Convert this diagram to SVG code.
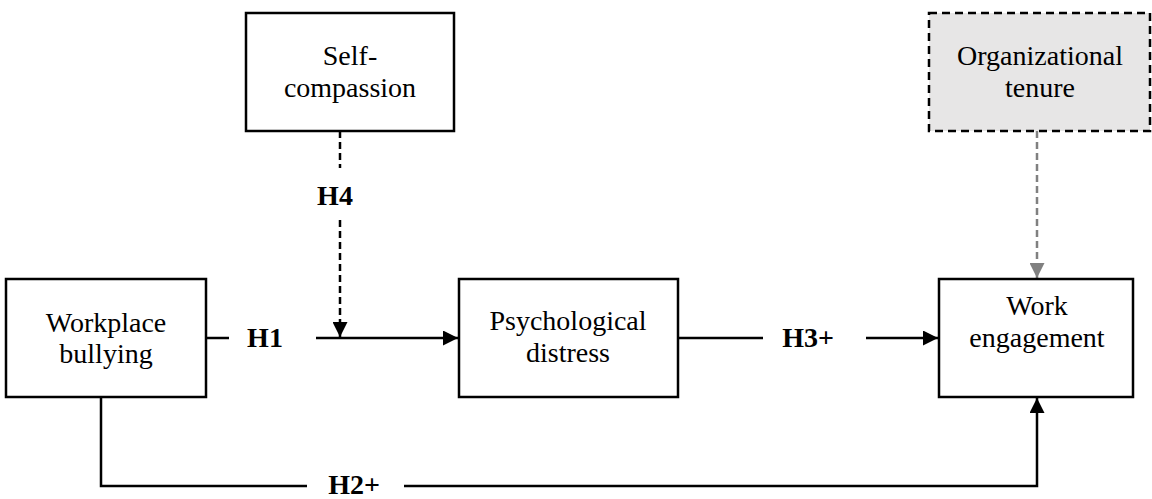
<svg xmlns="http://www.w3.org/2000/svg" width="1152" height="499" viewBox="0 0 1152 499">
<defs>
<marker id="ah" viewBox="0 0 15 15" refX="15" refY="7.5" markerWidth="15" markerHeight="15" markerUnits="userSpaceOnUse" orient="auto"><path d="M0,0 L15,7.5 L0,15 Z" fill="#000"/></marker>
<marker id="ahg" viewBox="0 0 15 15" refX="15" refY="7.5" markerWidth="15" markerHeight="15" markerUnits="userSpaceOnUse" orient="auto"><path d="M0,0 L15,7.5 L0,15 Z" fill="#808080"/></marker>
</defs>
<style>
.box{fill:#fff;stroke:#000;stroke-width:2.5}
.dbox{fill:#e7e6e6;stroke:#000;stroke-width:2.5;stroke-dasharray:8 5}
.t{font-family:"Liberation Serif",serif;font-size:28px;fill:#000;text-anchor:middle}
.h{font-family:"Liberation Serif",serif;font-size:28px;font-weight:bold;fill:#000;text-anchor:middle}
.ln{fill:none;stroke:#000;stroke-width:2.5}
.dl{fill:none;stroke:#000;stroke-width:2.5;stroke-dasharray:7 4}
.gl{fill:none;stroke:#808080;stroke-width:2.5;stroke-dasharray:7 4}
</style>
<rect width="1152" height="499" fill="#fff"/>
<g id="connectors">
<line class="ln" x1="206" y1="338" x2="229" y2="338"/>
<line class="ln" x1="316" y1="338" x2="458" y2="338" marker-end="url(#ah)"/>
<line class="dl" x1="340" y1="131" x2="340" y2="168"/>
<line class="dl" x1="340" y1="220" x2="340" y2="337" marker-end="url(#ah)"/>
<line class="ln" x1="678" y1="338" x2="763" y2="338"/>
<line class="ln" x1="866" y1="338" x2="938" y2="338" marker-end="url(#ah)"/>
<line class="gl" x1="1037" y1="131" x2="1037" y2="278" marker-end="url(#ahg)"/>
<polyline class="ln" points="101,397 101,486 307,486"/>
<polyline class="ln" points="404,486 1037,486 1037,398" marker-end="url(#ah)"/>
<text class="h" x="265" y="347">H1</text>
<text class="h" x="335" y="205">H4</text>
<text class="h" x="808" y="347">H3+</text>
<text class="h" x="354" y="494">H2+</text>
</g>
<g id="workplace-bullying">
<rect class="box" x="6" y="279" width="200" height="118"/>
<text class="t" x="106" y="332">Workplace</text>
<text class="t" x="106" y="363">bullying</text>
</g>
<g id="self-compassion">
<rect class="box" x="246" y="13" width="208" height="118"/>
<text class="t" x="350" y="65">Self-</text>
<text class="t" x="350" y="97">compassion</text>
</g>
<g id="psychological-distress">
<rect class="box" x="459" y="279" width="219" height="118"/>
<text class="t" x="568" y="330">Psychological</text>
<text class="t" x="568" y="362">distress</text>
</g>
<g id="work-engagement">
<rect class="box" x="939" y="279" width="194" height="118"/>
<text class="t" x="1037" y="315">Work</text>
<text class="t" x="1037" y="347">engagement</text>
</g>
<g id="organizational-tenure">
<rect class="dbox" x="929" y="13" width="221" height="118"/>
<text class="t" x="1040" y="65">Organizational</text>
<text class="t" x="1040" y="97">tenure</text>
</g>
</svg>
